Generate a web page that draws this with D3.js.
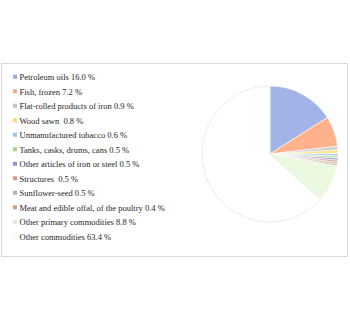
<!DOCTYPE html>
<html><head><meta charset="utf-8">
<script src="https://cdn.jsdelivr.net/npm/d3@7/dist/d3.min.js"></script>
<style>html,body{margin:0;padding:0;background:#fff;}svg{display:block;}</style>
</head><body>
<script>
const categories = ["Petroleum oils","Fish, frozen","Flat-rolled products of iron","Wood sawn ","Unmanufactured tobacco","Tanks, casks, drums, cans","Other articles of iron or steel","Structures ","Sunflower-seed","Meat and edible offal, of the poultry","Other primary commodities","Other commodities"];
const values = [16.0,7.2,0.9,0.8,0.6,0.5,0.5,0.5,0.5,0.4,8.8,63.4];
const labels = ["16.0 %","7.2 %","0.9 %","0.8 %","0.6 %","0.5 %","0.5 %","0.5 %","0.5 %","0.4 %","8.8 %","63.4 %"];
const colors = ["#9aaadb","#f4a985","#c4c4c4","#ffd97a","#a2c2e8","#a9d18e","#8a98c4","#d9998a","#b3b3b3","#c9a37e","#dfecd5","#ffffff"];

const W=350,H=322;
const svg=d3.select("body").append("svg").attr("width",W).attr("height",H);
svg.append("rect").attr("x",1.5).attr("y",63.5).attr("width",346).attr("height",193)
  .attr("fill","#fff").attr("stroke","#d9d9d9").attr("stroke-width",1);

const defs=svg.append("defs");
const cx=270,cy=154,r=68;
colors.forEach((c,i)=>{
  const g=defs.append("linearGradient").attr("id","g"+i).attr("gradientUnits","userSpaceOnUse")
    .attr("x1",0).attr("y1",cy-r).attr("x2",0).attr("y2",cy+r);
  const col=d3.color(c);
  g.append("stop").attr("offset","0%").attr("stop-color", i===11?"#fff":col.brighter(0.15).formatHex());
  g.append("stop").attr("offset","100%").attr("stop-color", i===11?"#fff":col.darker(0.1).formatHex());
});
const pie=d3.pie().sort(null).value(d=>d);
const arc=d3.arc().innerRadius(0).outerRadius(r);
const gp=svg.append("g").attr("transform",`translate(${cx},${cy})`);
gp.selectAll("path").data(pie(values)).join("path")
  .attr("d",arc)
  .attr("fill",(d,i)=>`url(#g${i})`)
  .attr("stroke",(d,i)=>i===11?"#ececec":"#fff")
  .attr("stroke-width",(d,i)=>i===11?1:0.6);

const y=d3.scaleBand().domain(d3.range(categories.length)).range([70,244]);
const lg=svg.append("g");
const rows=lg.selectAll("g").data(categories).join("g")
  .attr("transform",(d,i)=>`translate(0,${y(i)+y.bandwidth()/2})`);
rows.append("rect").attr("x",13).attr("y",-2.5).attr("width",4).attr("height",4)
  .attr("fill",(d,i)=>colors[i]).attr("stroke",(d,i)=>i===11?"#e6e6e6":"none").attr("stroke-width",0.5);
rows.append("text").attr("x",19.5).attr("y",3)
  .style("white-space","pre")
  .attr("font-family","'Liberation Serif','Times New Roman',serif").attr("font-size",8.5)
  .attr("fill","#262626")
  .text((d,i)=>d+" "+labels[i]);
</script>
</body></html>
